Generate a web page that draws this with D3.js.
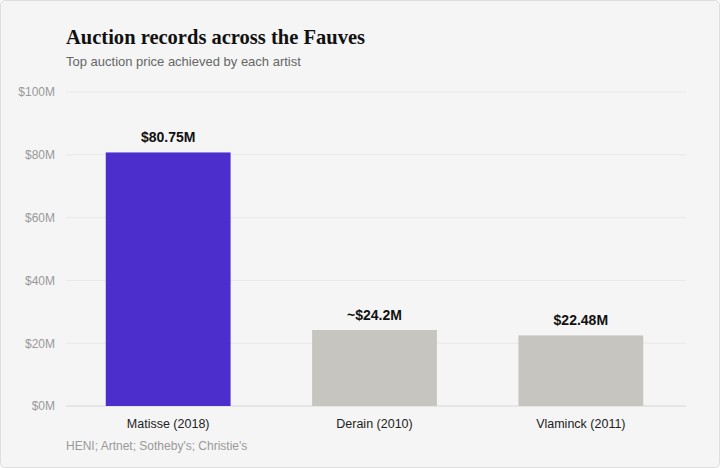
<!DOCTYPE html>
<html>
<head>
<meta charset="utf-8">
<script src="https://cdn.jsdelivr.net/npm/d3@7"></script>
<style>
  html, body { margin: 0; padding: 0; background: #fff; }
  #chart { width: 720px; height: 468px; }
</style>
</head>
<body>
<div id="chart"></div>
<script>
"use strict";

// Chart data
const artists = ["Matisse (2018)", "Derain (2010)", "Vlaminck (2011)"];
const prices = [80.75, 24.2, 22.48];
const priceLabels = ["$80.75M", "~$24.2M", "$22.48M"];
const yTicks = [0, 20, 40, 60, 80, 100];

function drawChart() {
    const width = 720, height = 468;
    const margin = { top: 92, right: 34, bottom: 62, left: 66 };

    const svg = d3.select("#chart")
        .append("svg")
        .attr("width", width)
        .attr("height", height);

    // Card background
    svg.append("rect")
        .attr("x", 0.5).attr("y", 0.5)
        .attr("width", width - 1).attr("height", height - 1)
        .attr("rx", 4)
        .attr("fill", "#f5f5f5")
        .attr("stroke", "#dedede");

    const x = d3.scaleBand()
        .domain(artists)
        .range([margin.left - 1.5, width - margin.right - 1.5])
        .paddingInner(0.395)
        .paddingOuter(0.2);

    const y = d3.scaleLinear()
        .domain([0, 100])
        .range([height - margin.bottom, margin.top]);

    // Title + subtitle
    svg.append("text")
        .attr("x", margin.left).attr("y", 44)
        .attr("font-family", "'Liberation Serif', serif")
        .attr("font-weight", "bold")
        .attr("font-size", 21)
        .attr("textLength", 299)
        .attr("lengthAdjust", "spacingAndGlyphs")
        .attr("fill", "#111")
        .text("Auction records across the Fauves");

    svg.append("text")
        .attr("x", margin.left).attr("y", 66)
        .attr("font-family", "Helvetica, Arial, 'Liberation Sans', sans-serif")
        .attr("font-size", 13)
        .attr("fill", "#666")
        .text("Top auction price achieved by each artist");

    // Gridlines
    svg.append("g")
        .selectAll("line")
        .data(yTicks)
        .join("line")
        .attr("x1", margin.left)
        .attr("x2", width - margin.right)
        .attr("y1", d => y(d))
        .attr("y2", d => y(d))
        .attr("stroke", d => d === 0 ? "#e0e0e0" : "#e8e8e8")
        .attr("stroke-width", d => d === 0 ? 1.5 : 1);

    // Y axis labels
    const yAxis = d3.axisLeft(y)
        .tickValues(yTicks)
        .tickSize(0)
        .tickPadding(0)
        .tickFormat(d => `$${d}M`);

    svg.append("g")
        .attr("transform", `translate(${margin.left - 11},0)`)
        .call(yAxis)
        .call(g => g.select(".domain").remove())
        .call(g => g.selectAll("text")
            .attr("font-family", "Helvetica, Arial, 'Liberation Sans', sans-serif")
            .attr("font-size", 12)
            .attr("fill", "#999"));

    // Bars
    const data = artists.map((a, i) => ({ name: a, value: prices[i], label: priceLabels[i] }));

    svg.append("g")
        .selectAll("rect")
        .data(data)
        .join("rect")
        .attr("x", d => x(d.name))
        .attr("y", d => y(d.value))
        .attr("width", x.bandwidth())
        .attr("height", d => y(0) - y(d.value))
        .attr("fill", (d, i) => i === 0 ? "#4b2ecc" : "#c6c5c0");

    // Value labels
    svg.append("g")
        .selectAll("text")
        .data(data)
        .join("text")
        .attr("x", d => x(d.name) + x.bandwidth() / 2)
        .attr("y", d => y(d.value) - 10)
        .attr("text-anchor", "middle")
        .attr("font-family", "Helvetica, Arial, 'Liberation Sans', sans-serif")
        .attr("font-weight", "bold")
        .attr("font-size", 14)
        .attr("fill", "#111")
        .text(d => d.label);

    // X axis labels
    const xAxis = d3.axisBottom(x).tickSize(0).tickPadding(0);

    svg.append("g")
        .attr("transform", `translate(0,${y(0) + 22})`)
        .call(xAxis)
        .call(g => g.select(".domain").remove())
        .call(g => g.selectAll("text")
            .attr("dy", 0)
            .attr("font-family", "Helvetica, Arial, 'Liberation Sans', sans-serif")
            .attr("font-size", 12.5)
            .attr("fill", "#222"));

    // Source
    svg.append("text")
        .attr("x", margin.left).attr("y", 450)
        .attr("font-family", "Helvetica, Arial, 'Liberation Sans', sans-serif")
        .attr("font-size", 12)
        .attr("fill", "#999")
        .text("HENI; Artnet; Sotheby's; Christie's");
}

drawChart();
</script>
</body>
</html>
